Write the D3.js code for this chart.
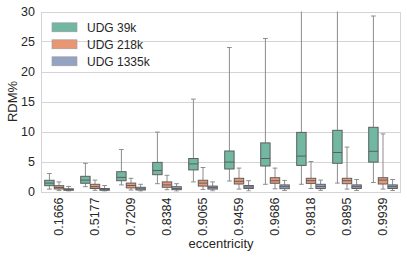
<!DOCTYPE html>
<html><head><meta charset="utf-8">
<script src="https://cdn.jsdelivr.net/npm/d3@7"></script>
<style>
html,body{margin:0;padding:0;background:#fff;}
svg text{font-family:"Liberation Sans",Arial,sans-serif;fill:#262626;}
</style></head>
<body>
<svg id="c" width="407" height="257"></svg>
<script>
const categories = ["0.1666","0.5177","0.7209","0.8384","0.9065","0.9459","0.9686","0.9818","0.9895","0.9939"];
const seriesNames = ["UDG 39k","UDG 218k","UDG 1335k"];
const seriesColors = ["#71b7a1","#e99675","#95a3c3"];
const yTicks = [0,5,10,15,20,25,30];

// UDG 39k
const s39_low  = [0.4,0.8,1.1,1.3,1.6,1.75,1.2,1.2,1.4,1.5];
const s39_q1   = [0.97,1.37,1.8,2.8,3.6,3.75,4.25,4.35,4.7,4.9];
const s39_med  = [1.4,1.9,2.35,3.5,4.6,4.9,5.5,5.9,6.5,6.7];
const s39_q3   = [1.87,2.53,3.3,4.85,5.5,6.75,8.1,9.85,10.2,10.7];
const s39_high = [3.0,4.7,7.0,9.9,15.4,24.0,25.5,32,32,29.25];
// UDG 218k
const s218_low  = [0.15,0.2,0.25,0.3,0.35,0.4,0.45,0.5,0.4,0.4];
const s218_q1   = [0.42,0.5,0.6,0.7,0.9,1.25,1.37,1.35,1.3,1.25];
const s218_med  = [0.67,0.8,1.0,1.1,1.4,1.7,1.8,1.8,1.8,1.9];
const s218_q3   = [0.97,1.2,1.4,1.6,1.87,2.2,2.3,2.2,2.2,2.3];
const s218_high = [1.6,1.9,2.2,2.7,4.0,3.9,3.9,5.0,7.4,9.6];
// UDG 1335k
const s1335_low  = [0.05,0.05,0.05,0.05,0.1,0.1,0.15,0.2,0.15,0.15];
const s1335_q1   = [0.2,0.2,0.25,0.3,0.4,0.5,0.47,0.5,0.5,0.5];
const s1335_med  = [0.33,0.35,0.45,0.5,0.65,0.75,0.8,0.85,0.8,0.8];
const s1335_q3   = [0.45,0.5,0.7,0.8,0.9,1.0,1.1,1.2,1.1,1.1];
const s1335_high = [0.85,1.0,1.2,1.3,1.6,1.8,1.85,1.9,2.0,2.0];

const series = [
  {low:s39_low,q1:s39_q1,med:s39_med,q3:s39_q3,high:s39_high},
  {low:s218_low,q1:s218_q1,med:s218_med,q3:s218_q3,high:s218_high},
  {low:s1335_low,q1:s1335_q1,med:s1335_med,q3:s1335_q3,high:s1335_high}
];

const svg = d3.select("#c");
const m = {l:41, r:6, t:11.5, b:65.5};
const W = 407, H = 257;
const x0 = m.l, x1 = W - m.r, y0 = H - m.b, y1 = m.t;

const x = d3.scaleBand().domain(categories).range([x0, x1]).paddingInner(0).paddingOuter(0);
const y = d3.scaleLinear().domain([0,30]).range([y0, y1]);
const bw = x.bandwidth();
const xs = d3.scaleBand().domain(seriesNames).range([-bw*0.4, bw*0.4]);
const boxW = xs.bandwidth()*0.98;

// grid
svg.append("g").selectAll("line").data(yTicks).join("line")
  .attr("x1",x0).attr("x2",x1)
  .attr("y1",d=>Math.round(y(d))+0.5).attr("y2",d=>Math.round(y(d))+0.5)
  .attr("stroke","#d4d4d4").attr("stroke-width",1);
// frame
svg.append("rect").attr("x",x0+0.5).attr("y",Math.round(y1)+0.5)
  .attr("width",x1-x0-1).attr("height",Math.round(y0)-Math.round(y1))
  .attr("fill","none").attr("stroke","#d4d4d4");

// clip
svg.append("clipPath").attr("id","pc").append("rect")
  .attr("x",x0).attr("y",y1).attr("width",x1-x0).attr("height",y0-y1);

const plot = svg.append("g").attr("clip-path","url(#pc)");
const wcol = "#8c8c8c", bcol = "#5e5e5e";

series.forEach((s,si)=>{
  categories.forEach((c,ci)=>{
    const cx = x(c) + bw/2 + xs(seriesNames[si]) + xs.bandwidth()/2;
    const g = plot.append("g");
    g.append("line").attr("x1",cx).attr("x2",cx).attr("y1",y(s.q3[ci])).attr("y2",y(s.high[ci]))
      .attr("stroke",wcol).attr("stroke-width",1);
    g.append("line").attr("x1",cx).attr("x2",cx).attr("y1",y(s.q1[ci])).attr("y2",y(s.low[ci]))
      .attr("stroke",wcol).attr("stroke-width",1);
    [s.high[ci], s.low[ci]].forEach(v=>{
      g.append("line").attr("x1",cx-boxW/4).attr("x2",cx+boxW/4).attr("y1",y(v)).attr("y2",y(v))
        .attr("stroke",wcol).attr("stroke-width",1);
    });
    g.append("rect").attr("x",cx-boxW/2).attr("y",y(s.q3[ci]))
      .attr("width",boxW).attr("height",Math.max(0.5,y(s.q1[ci])-y(s.q3[ci])))
      .attr("fill",seriesColors[si]).attr("stroke",bcol).attr("stroke-width",1);
    g.append("line").attr("x1",cx-boxW/2).attr("x2",cx+boxW/2).attr("y1",y(s.med[ci])).attr("y2",y(s.med[ci]))
      .attr("stroke",bcol).attr("stroke-width",1);
  });
});

// y tick labels
svg.append("g").selectAll("text").data(yTicks).join("text")
  .attr("x",x0-6).attr("y",d=>y(d)).attr("dy","0.35em")
  .attr("text-anchor","end").attr("font-size","12.5px").text(d=>d);

// x tick labels
svg.append("g").selectAll("text").data(categories).join("text")
  .attr("transform",d=>`translate(${x(d)+bw/2},${y0+6}) rotate(-90)`)
  .attr("dy","0.35em").attr("text-anchor","end").attr("font-size","12.5px").text(d=>d);

// axis titles
svg.append("text").attr("transform",`translate(12,${(y0+y1)/2}) rotate(-90)`)
  .attr("dy","0.35em").attr("text-anchor","middle").attr("font-size","13px").text("RDM%");
svg.append("text").attr("x",(x0+x1)/2).attr("y",248)
  .attr("text-anchor","middle").attr("font-size","13px").text("eccentricity");

// legend
const lg = svg.append("g");
seriesNames.forEach((n,i)=>{
  const cy = 27.3 + i*17;
  lg.append("rect").attr("x",52).attr("y",cy-4.5).attr("width",25).attr("height",9)
    .attr("fill",seriesColors[i]).attr("stroke","#9a9a9a").attr("stroke-width",0.6);
  lg.append("text").attr("x",87).attr("y",cy).attr("dy","0.35em")
    .attr("font-size","12px").text(n);
});
</script>
</body></html>
